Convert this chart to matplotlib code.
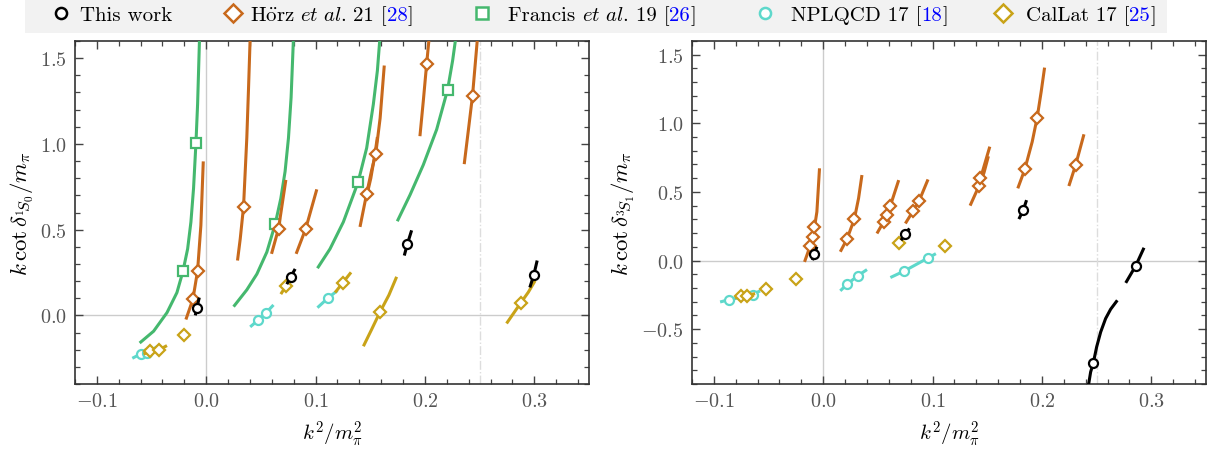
import matplotlib
matplotlib.use("Agg")
import matplotlib.pyplot as plt
from matplotlib.lines import Line2D
from matplotlib.patches import Rectangle

plt.rcParams.update({
    "font.family": "serif",
    "font.serif": ["cmr10"],
    "mathtext.fontset": "cm",
    "axes.formatter.use_mathtext": True,
    "axes.unicode_minus": True,
})

# ---------------- colours ----------------
C_THIS = "#000000"
C_HORZ = "#C8691C"
C_FRAN = "#45B86E"
C_NPLQ = "#5ED8CB"
C_CALL = "#C9A318"

# ---------------- data: 1S0 (left panel) ----------------
# each curve: (k^2/m^2 values, k cot delta / m values)
fran_1s0_curves = [
    ([-0.0609, -0.0481, -0.0359, -0.0268, -0.0213, -0.0170, -0.0140, -0.0116, -0.0094, -0.0079, -0.0061],
     [-0.161, -0.092, 0.016, 0.133, 0.257, 0.388, 0.545, 0.741, 1.006, 1.231, 1.624]),
    ([0.0250, 0.0371, 0.0463, 0.0554, 0.0630, 0.0682, 0.0721, 0.0752, 0.0776, 0.0798],
     [0.051, 0.149, 0.241, 0.369, 0.531, 0.682, 0.839, 1.035, 1.271, 1.624]),
    ([0.1017, 0.1132, 0.1254, 0.1388, 0.1467, 0.1528, 0.1565, 0.1589],
     [0.275, 0.388, 0.545, 0.776, 0.976, 1.231, 1.427, 1.624]),
    ([0.1747, 0.1863, 0.1985, 0.2107, 0.2207, 0.2253, 0.2283],
     [0.549, 0.702, 0.878, 1.084, 1.316, 1.486, 1.624]),
]
fran_1s0_x = [-0.0213, -0.0094, 0.0630, 0.1388, 0.2207]
fran_1s0_y = [0.257, 1.006, 0.531, 0.776, 1.316]

horz_1s0_curves = [
    ([-0.0186, -0.0122, -0.0079, -0.0049, -0.0027], [-0.024, 0.094, 0.261, 0.525, 0.898]),
    ([0.0286, 0.0311, 0.0341, 0.0371, 0.0387, 0.0402], [0.320, 0.447, 0.633, 1.035, 1.329, 1.624]),
    ([0.0597, 0.0661, 0.0728], [0.359, 0.506, 0.790]),
    ([0.0822, 0.0910, 0.1011], [0.359, 0.506, 0.735]),
    ([0.1406, 0.1467, 0.1510, 0.1550, 0.1590, 0.1628], [0.516, 0.710, 0.840, 0.943, 1.150, 1.457]),
    ([0.1465, 0.1505, 0.1540, 0.1565], [0.690, 0.800, 0.930, 1.040]),
    ([0.1954, 0.1985, 0.2015, 0.2039], [1.045, 1.251, 1.463, 1.624]),
    ([0.2359, 0.2396, 0.2435, 0.2481], [0.882, 1.075, 1.282, 1.624]),
]
horz_1s0_x = [-0.0122, -0.0079, 0.0341, 0.0661, 0.0910, 0.1470, 0.1550, 0.2015, 0.2435]
horz_1s0_y = [0.094, 0.261, 0.633, 0.506, 0.506, 0.710, 0.943, 1.463, 1.282]

nplq_1s0_curves = [
    ([-0.0676, -0.0597, -0.0545, -0.0420], [-0.250, -0.224, -0.220, -0.171]),
    ([0.0402, 0.0472, 0.0542, 0.0615], [-0.067, -0.029, 0.012, 0.061]),
    ([0.1017, 0.1111, 0.1200], [0.045, 0.100, 0.145]),
]
nplq_1s0_x = [-0.0597, -0.0545, 0.0472, 0.0542, 0.1111]
nplq_1s0_y = [-0.224, -0.220, -0.029, 0.012, 0.100]

call_1s0_curves = [
    ([-0.0573, -0.0511, -0.0429, -0.0359], [-0.226, -0.208, -0.200, -0.176]),
    ([0.0682, 0.0731, 0.0767], [0.124, 0.173, 0.198]),
    ([0.1178, 0.1248, 0.1324], [0.133, 0.190, 0.251]),
    ([0.1437, 0.1510, 0.1589, 0.1670, 0.1741], [-0.180, -0.085, 0.020, 0.118, 0.225]),
    ([0.2746, 0.2810, 0.2877, 0.2945, 0.3007], [-0.047, 0.012, 0.074, 0.135, 0.202]),
]
call_1s0_x = [-0.0511, -0.0429, -0.0207, 0.0731, 0.1248, 0.1589, 0.2877]
call_1s0_y = [-0.208, -0.200, -0.112, 0.173, 0.190, 0.020, 0.074]

this_1s0_curves = [
    ([-0.0100, -0.0085, -0.0064], [0.000, 0.045, 0.104]),
    ([0.0737, 0.0773, 0.0813], [0.182, 0.225, 0.271]),
    ([0.1811, 0.1839, 0.1878], [0.349, 0.416, 0.496]),
    ([0.2959, 0.2995, 0.3026], [0.163, 0.235, 0.320]),
]
this_1s0_x = [-0.0085, 0.0773, 0.1839, 0.2995]
this_1s0_y = [0.045, 0.225, 0.416, 0.235]

# ---------------- data: 3S1 (right panel) ----------------
horz_3s1_curves = [
    ([-0.0171, -0.0119, -0.0098, -0.0080, -0.0058, -0.0034], [-0.010, 0.107, 0.168, 0.241, 0.355, 0.672]),
    ([0.0156, 0.0217, 0.0284, 0.0323, 0.0354], [0.064, 0.156, 0.301, 0.453, 0.623]),
    ([0.0491, 0.0552, 0.0583, 0.0613, 0.0690], [0.197, 0.282, 0.331, 0.397, 0.586]),
    ([0.0751, 0.0821, 0.0876, 0.0958], [0.270, 0.360, 0.433, 0.591]),
    ([0.1343, 0.1422, 0.1438, 0.1523], [0.400, 0.540, 0.599, 0.830]),
    ([0.1420, 0.1470, 0.1510], [0.530, 0.640, 0.760]),
    ([0.1779, 0.1843, 0.1911, 0.1956, 0.1993, 0.2024], [0.526, 0.664, 0.866, 1.041, 1.231, 1.406]),
    ([0.2246, 0.2308, 0.2384], [0.543, 0.696, 0.920]),
]
horz_3s1_x = [-0.0119, -0.0098, -0.0080, 0.0217, 0.0284, 0.0552, 0.0583, 0.0613,
              0.0821, 0.0876, 0.1422, 0.1438, 0.1843, 0.1956, 0.2308]
horz_3s1_y = [0.107, 0.168, 0.241, 0.156, 0.301, 0.282, 0.331, 0.397,
              0.360, 0.433, 0.540, 0.599, 0.664, 1.041, 0.696]

nplq_3s1_curves = [
    ([-0.0943, -0.0858, -0.0700, -0.0577], [-0.302, -0.285, -0.262, -0.222]),
    ([0.0156, 0.0217, 0.0318, 0.0400], [-0.221, -0.173, -0.110, -0.066]),
    ([0.0614, 0.0742, 0.0955, 0.1030], [-0.124, -0.076, 0.017, 0.050]),
]
nplq_3s1_x = [-0.0858, -0.0640, 0.0217, 0.0318, 0.0742, 0.0955]
nplq_3s1_y = [-0.285, -0.250, -0.173, -0.110, -0.076, 0.017]

call_3s1_curves = [
    ([-0.0806, -0.0754, -0.0699, -0.0623], [-0.272, -0.262, -0.255, -0.241]),
    ([0.0680, 0.0705], [0.115, 0.145]),
    ([0.1105, 0.1130], [0.095, 0.120]),
]
call_3s1_x = [-0.0754, -0.0699, -0.0522, -0.0247, 0.0693, 0.1117]
call_3s1_y = [-0.262, -0.255, -0.204, -0.135, 0.131, 0.107]

this_3s1_curves = [
    ([-0.0098, -0.0082, -0.0058], [0.002, 0.044, 0.100]),
    ([0.0711, 0.0751, 0.0788], [0.148, 0.190, 0.234]),
    ([0.1789, 0.1829, 0.1859], [0.302, 0.367, 0.440]),
    ([0.2766, 0.2857, 0.2933], [-0.163, -0.039, 0.093]),
    ([0.2415, 0.2430, 0.2445, 0.2470, 0.2500, 0.2537, 0.2582, 0.2628, 0.2689],
     [-0.950, -0.886, -0.813, -0.745, -0.630, -0.521, -0.423, -0.355, -0.290]),
]
this_3s1_x = [-0.0082, 0.0751, 0.1829, 0.2857, 0.2470]
this_3s1_y = [0.044, 0.190, 0.367, -0.039, -0.745]

XLIM = (-0.12, 0.35)
YLIM_1S0 = (-0.4, 1.6)
YLIM_3S1 = (-0.9, 1.6)

W, H = 1211, 452
fig = plt.figure(figsize=(W / 100, H / 100), dpi=100)
axL = fig.add_axes([75 / W, 1 - 385 / H, 514 / W, 343 / H])
axR = fig.add_axes([692 / W, 1 - 385 / H, 514 / W, 343 / H])

LW = 2.2


def draw_series(ax, curves, xs, ys, color, marker, ms, z):
    for cx, cy in curves:
        ax.plot(cx, cy, color=color, lw=LW, solid_capstyle="butt", zorder=z)
    ax.plot(xs, ys, ls="none", marker=marker, ms=ms, mfc="white", mec=color,
            mew=1.6, zorder=z + 0.5)


def style_axes(ax, ylim, ylabel):
    ax.set_xlim(*XLIM)
    ax.set_ylim(*ylim)
    ax.axhline(0, color="#cccccc", lw=1.0, zorder=0)
    ax.axvline(0, color="#cccccc", lw=1.0, zorder=0)
    ax.axvline(0.25, color="#dddddd", lw=1.0, ls="-.", zorder=0)
    ax.set_xticks([-0.1, 0.0, 0.1, 0.2, 0.3])
    ax.set_xticks([x / 100 for x in range(-12, 36, 2)], minor=True)
    ax.tick_params(which="both", direction="in", top=True, right=True,
                   labelsize=14.5, labelcolor="#555555", color="#444444")
    ax.tick_params(which="major", length=6, width=1.0, pad=6)
    ax.tick_params(which="minor", length=3.5, width=0.9)
    for s in ax.spines.values():
        s.set_color("#333333")
        s.set_linewidth(1.2)
    ax.set_xlabel(r"$k^2/m_\pi^2$", fontsize=15, labelpad=6)
    ax.set_ylabel(ylabel, fontsize=16.5, labelpad=3)


style_axes(axL, YLIM_1S0, r"$k\,\cot\delta_{{}^1\!S_0}/m_\pi$")
axL.set_yticks([0.0, 0.5, 1.0, 1.5])
axL.set_yticks([y / 10 for y in range(-4, 17)], minor=True)

style_axes(axR, YLIM_3S1, r"$k\,\cot\delta_{{}^3\!S_1}/m_\pi$")
axR.set_yticks([-0.5, 0.0, 0.5, 1.0, 1.5])
axR.set_yticks([y / 10 for y in range(-9, 17)], minor=True)

draw_series(axL, fran_1s0_curves, fran_1s0_x, fran_1s0_y, C_FRAN, "s", 6.5, 3)
draw_series(axL, horz_1s0_curves, horz_1s0_x, horz_1s0_y, C_HORZ, "D", 6.5, 4)
draw_series(axL, nplq_1s0_curves, nplq_1s0_x, nplq_1s0_y, C_NPLQ, "o", 6.5, 5)
draw_series(axL, call_1s0_curves, call_1s0_x, call_1s0_y, C_CALL, "D", 6.5, 6)
draw_series(axL, this_1s0_curves, this_1s0_x, this_1s0_y, C_THIS, "o", 6.5, 7)

draw_series(axR, horz_3s1_curves, horz_3s1_x, horz_3s1_y, C_HORZ, "D", 6.5, 4)
draw_series(axR, nplq_3s1_curves, nplq_3s1_x, nplq_3s1_y, C_NPLQ, "o", 6.5, 5)
draw_series(axR, call_3s1_curves, call_3s1_x, call_3s1_y, C_CALL, "D", 6.5, 6)
draw_series(axR, this_3s1_curves, this_3s1_x, this_3s1_y, C_THIS, "o", 6.5, 7)

# ---------------- legend (manual, with blue citation numbers) ----------------
fig.add_artist(Rectangle((25 / W, 1 - 34 / H), (1167 - 25) / W, 34 / H,
                         transform=fig.transFigure, facecolor="#f2f2f2",
                         edgecolor="none", zorder=0))
BLUE = "#0000ff"
# pieces: (text, colour, extra gap in px after the piece)
legend_entries = [
    (C_THIS, "o", 61, 80, [("This work", "k", 0)]),
    (C_HORZ, "D", 233, 250, [(r"H$\ddot{\mathrm{o}}$rz", "k", 5), (r"$\mathit{et\ al.}$", "k", 0),
                             (" 21 [", "k", 0), ("28", BLUE, 0), ("]", "k", 0)]),
    (C_FRAN, "s", 482, 508, [("Francis ", "k", 0), (r"$\mathit{et\ al.}$", "k", 0),
                             (" 19 [", "k", 0), ("26", BLUE, 0), ("]", "k", 0)]),
    (C_NPLQ, "o", 765, 791, [("NPLQCD 17 [", "k", 0), ("18", BLUE, 0), ("]", "k", 0)]),
    (C_CALL, "D", 1003, 1026, [("CalLat 17 [", "k", 0), ("25", BLUE, 0), ("]", "k", 0)]),
]
ly = 1 - 14 / H
fig.canvas.draw()
renderer = fig.canvas.get_renderer()
for color, mk, mx, tx, pieces in legend_entries:
    fig.add_artist(Line2D([mx / W], [ly], transform=fig.transFigure, ls="none",
                          marker=mk, ms=9 if mk == "D" else 8, mfc="white",
                          mec=color, mew=1.8))
    xpos = tx
    for s, c, gap in pieces:
        t = fig.text(xpos / W, ly, s, color=c, fontsize=15, va="center_baseline", ha="left")
        bb = t.get_window_extent(renderer=renderer)
        xpos += bb.width + gap

fig.savefig("out.png", dpi=100)
